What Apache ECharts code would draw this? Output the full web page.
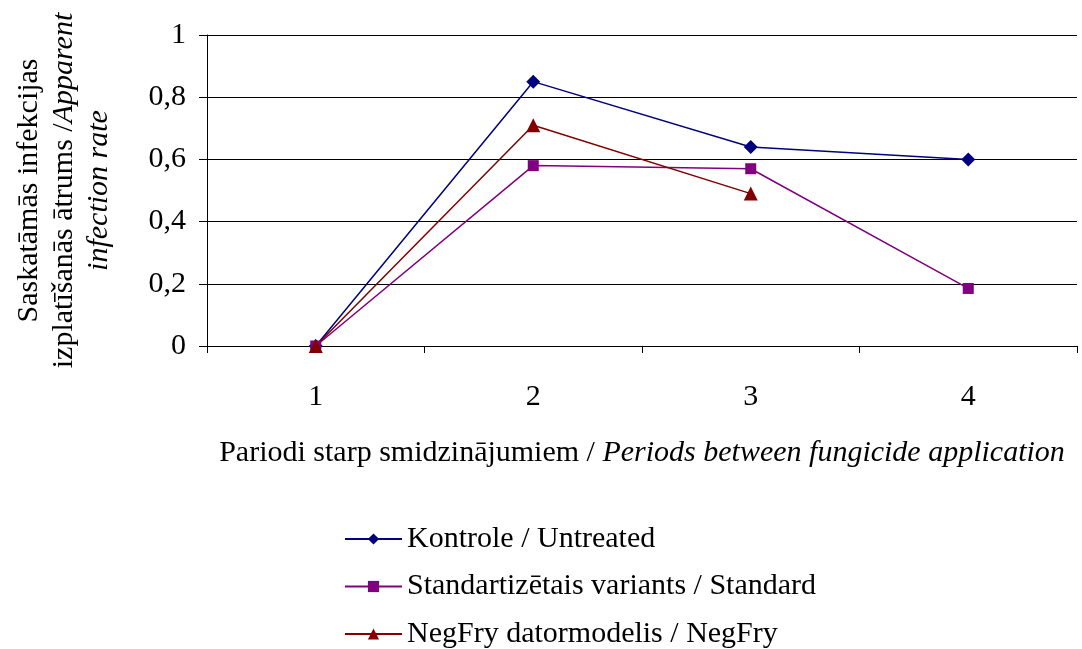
<!DOCTYPE html>
<html><head><meta charset="utf-8">
<script src="https://cdn.jsdelivr.net/npm/echarts@6/dist/echarts.min.js"></script>
<style>html,body{margin:0;padding:0;background:#fff}#c{width:1082px;height:649px}</style>
</head><body><div id="c"></div>
<script>
const categories = ['1', '2', '3', '4'];
const kontrole = [0, 0.85, 0.64, 0.60];
const standard = [0, 0.58, 0.57, 0.185];
const negfry = [0, 0.71, 0.49, null];
const seriesNames = ['Kontrole / Untreated', 'Standartizētais variants / Standard', 'NegFry datormodelis / NegFry'];

const FONT = '"Liberation Serif", "Times New Roman", serif';
const FS = 30;
const chart = echarts.init(document.getElementById('c'));
chart.setOption({
  animation: false,
  textStyle: { fontFamily: FONT },
  grid: { left: 207, right: 5, top: 35, bottom: 303, containLabel: false, outerBoundsMode: 'none' },
  legend: {
    orient: 'vertical', left: 344, top: 524, height: 200, padding: 0, itemGap: 17.5,
    itemWidth: 57, itemHeight: 14,
    textStyle: { fontFamily: FONT, fontSize: FS, color: '#000' },
    data: seriesNames
  },
  xAxis: {
    type: 'category', data: categories, boundaryGap: true,
    axisLine: { lineStyle: { color: '#000', width: 1 } },
    axisTick: { show: true, length: 7, lineStyle: { color: '#000' } },
    axisLabel: { margin: 36, fontSize: FS, color: '#000', fontFamily: FONT },
    name: '{n|Pariodi starp smidzinājumiem / }{i|Periods between fungicide application}',
    nameLocation: 'middle', nameGap: 92,
    nameTextStyle: {
      rich: {
        n: { fontSize: FS, fontFamily: FONT, color: '#000' },
        i: { fontSize: FS, fontFamily: FONT, fontStyle: 'italic', color: '#000' }
      }
    }
  },
  yAxis: {
    type: 'value', min: 0, max: 1, interval: 0.2,
    axisLine: { show: true, lineStyle: { color: '#000', width: 1 } },
    axisTick: { show: true, length: 8, lineStyle: { color: '#000' } },
    splitLine: { lineStyle: { color: '#000', width: 1 } },
    axisLabel: { margin: 21, fontSize: FS, color: '#000', fontFamily: FONT,
      formatter: v => String(+v.toFixed(1)).replace('.', ',') },
    name: '{n|Saskatāmās infekcijas}\n{n|izplatīšanās ātrums /}{i|Apparent}\n{i|infection rate}',
    nameLocation: 'middle', nameRotate: 90, nameGap: 90,
    nameTextStyle: {
      align: 'center',
      rich: {
        n: { fontSize: FS, fontFamily: FONT, color: '#000', lineHeight: 35 },
        i: { fontSize: FS, fontFamily: FONT, fontStyle: 'italic', color: '#000', lineHeight: 35 }
      }
    }
  },
  series: [
    { name: seriesNames[0], type: 'line', data: kontrole, symbol: 'diamond', symbolSize: 14,
      itemStyle: { color: '#000080' }, lineStyle: { color: '#000080', width: 1.5 } },
    { name: seriesNames[1], type: 'line', data: standard, symbol: 'rect', symbolSize: 11,
      itemStyle: { color: '#800080' }, lineStyle: { color: '#800080', width: 1.5 } },
    { name: seriesNames[2], type: 'line', data: negfry, symbol: 'triangle', symbolSize: 14,
      itemStyle: { color: '#800000' }, lineStyle: { color: '#800000', width: 1.5 } }
  ]
});
</script></body></html>
